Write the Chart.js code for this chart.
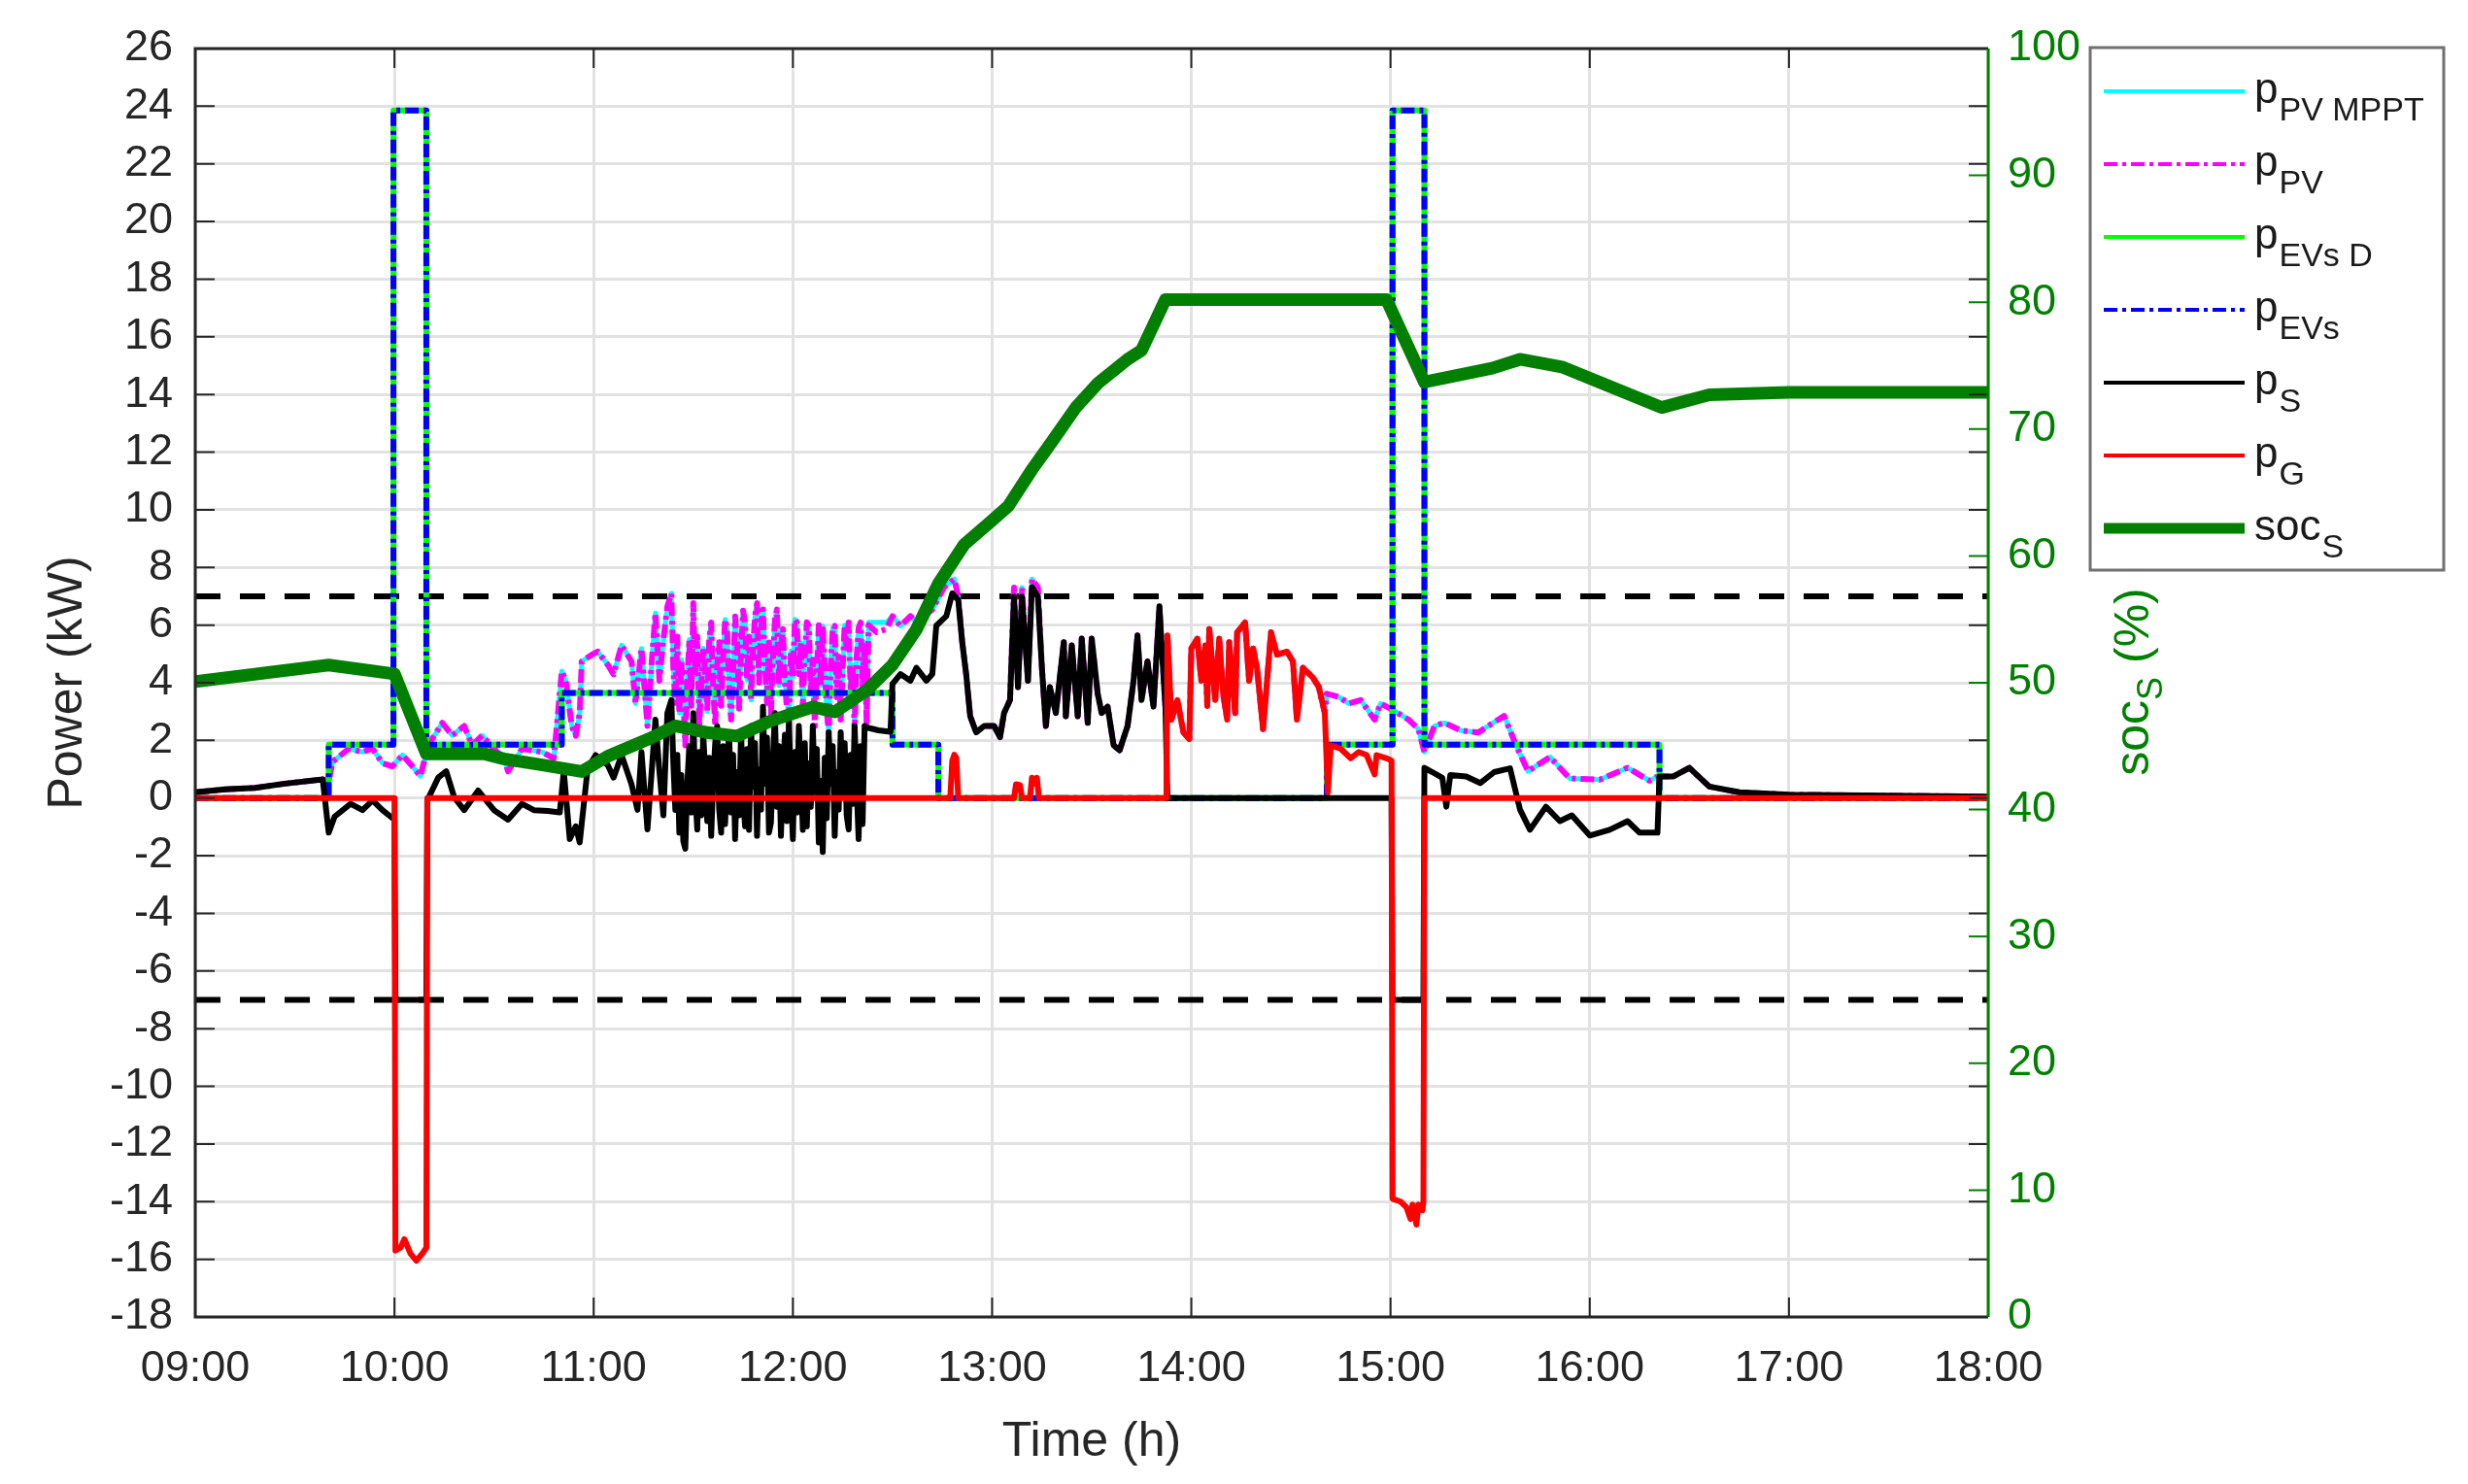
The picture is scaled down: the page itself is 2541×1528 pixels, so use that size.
<!DOCTYPE html>
<html lang="en">
<head>
    <meta charset="UTF-8">
    <title>Power flows and storage SOC</title>
    <script src="https://cdn.jsdelivr.net/npm/chart.js"></script>
    <style>
        html, body { margin: 0; padding: 0; background: #fff; }
        #chart-container { width: 2541px; height: 1528px; position: relative; }
    </style>
</head>
<body>
<div id="chart-container"><canvas id="chart"></canvas></div>
<script>
// time in hours (9 = 09:00), power in kW, state of charge in %
const timeLabels = ['09:00', '10:00', '11:00', '12:00', '13:00', '14:00', '15:00', '16:00', '17:00', '18:00'];
const powerRange = [-18, 26];
const socRange = [0, 100];
const pLimits = [7, -7];

// legend text: [main, subscript]
const seriesNames = [['p', 'PV MPPT'], ['p', 'PV'], ['p', 'EVs D'], ['p', 'EVs'], ['p', 'S'], ['p', 'G'], ['soc', 'S']];

// EV power, step values (each value holds until the next time)
const tEV = [9.0, 9.67, 9.995, 10.16, 10.84, 12.5, 12.73, 14.68, 15.01, 15.17, 16.35, 18.0];
const pEVs = [0, 1.85, 23.85, 1.85, 3.65, 1.85, 0, 1.85, 23.85, 1.85, 0, 0];
const pEVsD = [0, 1.85, 23.85, 1.85, 3.65, 1.85, 0, 1.85, 23.85, 1.85, 0, 0];

// PV power [t, kW]
const pPV = [
    [9.00, 0.20], [9.15, 0.30], [9.30, 0.35], [9.45, 0.50], [9.64, 0.65], [9.67, 0.60], [9.69, 1.26], [9.77, 1.71],
    [9.84, 1.60], [9.89, 1.71], [9.94, 1.21], [9.99, 1.10], [10.04, 1.49], [10.09, 1.10], [10.13, 0.76], [10.17, 1.83],
    [10.24, 2.61], [10.29, 2.17], [10.35, 2.50], [10.39, 1.83], [10.44, 2.17], [10.50, 1.70], [10.55, 1.38], [10.57, 0.93],
    [10.64, 1.71], [10.74, 1.60], [10.80, 1.38], [10.84, 4.40], [10.86, 4.07], [10.89, 2.50], [10.91, 2.16], [10.93, 2.95],
    [10.94, 4.74], [10.99, 4.97], [11.02, 5.08], [11.07, 4.63], [11.10, 4.29], [11.14, 5.30], [11.19, 4.74], [11.21, 3.28],
    [11.24, 5.19], [11.27, 2.50], [11.29, 4.60], [11.31, 6.42], [11.33, 4.07], [11.35, 5.50], [11.37, 6.65], [11.39, 7.10],
    [11.40, 4.50], [11.41, 3.30], [11.42, 5.60], [11.43, 2.95], [11.44, 4.80], [11.45, 3.40], [11.46, 1.83], [11.47, 4.00],
    [11.48, 5.50], [11.49, 3.20], [11.50, 6.76], [11.51, 4.20], [11.52, 5.60], [11.53, 2.50], [11.54, 3.90], [11.55, 5.20],
    [11.56, 4.29], [11.57, 3.00], [11.58, 5.50], [11.59, 6.09], [11.60, 3.80], [11.61, 2.50], [11.62, 4.60], [11.63, 5.41],
    [11.64, 3.20], [11.65, 4.90], [11.66, 6.20], [11.67, 5.86], [11.68, 3.60], [11.69, 2.72], [11.70, 4.40], [11.71, 6.30],
    [11.72, 5.41], [11.73, 3.10], [11.74, 5.00], [11.75, 6.50], [11.76, 6.09], [11.77, 4.10], [11.78, 5.60], [11.79, 3.40],
    [11.80, 5.20], [11.81, 6.30], [11.82, 6.76], [11.83, 4.00], [11.84, 5.80], [11.85, 6.54], [11.86, 4.60], [11.87, 3.30],
    [11.88, 5.40], [11.89, 2.95], [11.90, 4.80], [11.91, 6.20], [11.92, 6.54], [11.93, 3.90], [11.94, 5.20], [11.95, 5.86],
    [11.96, 4.00], [11.97, 3.10], [11.98, 2.72], [11.99, 5.10], [12.00, 4.20], [12.01, 6.20], [12.02, 6.09], [12.03, 4.30],
    [12.04, 5.40], [12.05, 3.17], [12.06, 4.90], [12.07, 6.10], [12.08, 5.97], [12.09, 3.60], [12.10, 4.80], [12.11, 2.50],
    [12.12, 4.40], [12.13, 6.00], [12.14, 3.90], [12.15, 5.97], [12.16, 4.50], [12.17, 3.00], [12.18, 2.28], [12.19, 4.60],
    [12.20, 5.90], [12.21, 5.97], [12.22, 3.50], [12.23, 4.90], [12.24, 2.72], [12.25, 4.50], [12.26, 6.00], [12.27, 5.20],
    [12.28, 6.09], [12.29, 3.70], [12.30, 4.60], [12.31, 2.28], [12.32, 4.90], [12.33, 5.90], [12.34, 6.09], [12.35, 3.80],
    [12.36, 5.40], [12.37, 2.61], [12.38, 6.00], [12.42, 5.75], [12.47, 5.86],
    [12.50, 6.31], [12.54, 5.97], [12.59, 6.31], [12.62, 6.09], [12.70, 6.54], [12.76, 7.32], [12.81, 7.60], [12.83, 7.00],
    [12.85, 5.41], [12.87, 4.29], [12.89, 2.84], [12.92, 2.28], [12.96, 2.50], [13.01, 2.50], [13.04, 2.11], [13.06, 2.95],
    [13.09, 3.40], [13.11, 7.30], [13.13, 3.85], [13.15, 7.30], [13.18, 4.07], [13.20, 7.60], [13.23, 7.30], [13.25, 4.52],
    [13.27, 2.50], [13.29, 3.85], [13.32, 2.95], [13.36, 5.41], [13.37, 2.84], [13.40, 5.30], [13.43, 2.84], [13.45, 5.53],
    [13.48, 2.61], [13.50, 5.53], [13.53, 3.62], [13.55, 2.95], [13.58, 3.17], [13.61, 1.83], [13.64, 1.66], [13.68, 2.50],
    [13.71, 4.07], [13.73, 5.64], [13.75, 3.40], [13.78, 4.74], [13.81, 3.17], [13.84, 6.65], [13.85, 5.41], [13.87, 3.17],
    [13.88, 5.64], [13.90, 2.72], [13.93, 3.40], [13.96, 2.28], [13.99, 2.05], [14.00, 5.19], [14.03, 5.53], [14.05, 4.07],
    [14.07, 5.30], [14.08, 3.20], [14.09, 5.86], [14.12, 3.40], [14.14, 5.53], [14.16, 3.60], [14.18, 2.72], [14.19, 5.41],
    [14.22, 2.95], [14.23, 5.75], [14.27, 6.09], [14.29, 4.07], [14.31, 5.19], [14.33, 4.50], [14.36, 2.39], [14.40, 5.75],
    [14.43, 4.97], [14.48, 5.08], [14.51, 4.74], [14.53, 2.72], [14.56, 4.52], [14.61, 4.18], [14.64, 3.85], [14.67, 2.95],
    [14.68, 3.62], [14.74, 3.51], [14.79, 3.28], [14.85, 3.40], [14.92, 2.72], [14.95, 3.28], [15.01, 3.06], [15.09, 2.72],
    [15.14, 2.39], [15.17, 1.60], [15.22, 2.50], [15.27, 2.61], [15.35, 2.35], [15.44, 2.27], [15.49, 2.50], [15.57, 2.85],
    [15.63, 1.83], [15.69, 0.93], [15.80, 1.42], [15.90, 0.68], [16.05, 0.64], [16.19, 1.05], [16.30, 0.60], [16.34, 0.75],
    [16.42, 0.75], [16.50, 1.05], [16.60, 0.40], [16.75, 0.20], [17.00, 0.12], [17.50, 0.08], [18.00, 0.05]
];
// MPPT power differs from PV power only where the PV is curtailed
const pMPPTdiff = [[12.38, 6.10], [12.42, 6.10], [12.47, 6.10], [11.89, 3.40], [12.11, 2.90], [12.31, 2.70], [11.61, 2.90], [11.97, 3.50]];

// storage power [t, kW]
const pS = [
    [9.00, 0.20], [9.15, 0.30], [9.30, 0.35], [9.45, 0.50], [9.64, 0.65], [9.67, -1.20], [9.70, -0.64], [9.78, -0.20],
    [9.84, -0.42], [9.89, -0.08], [9.94, -0.42], [10.00, -0.75], [10.005, -7.00], [10.16, -7.00], [10.165, -0.08], [10.22, 0.71],
    [10.26, 0.93], [10.30, 0.03], [10.35, -0.42], [10.42, 0.26], [10.50, -0.42], [10.57, -0.75], [10.64, -0.20], [10.70, -0.42],
    [10.77, -0.45], [10.83, -0.50], [10.85, 0.93], [10.88, -1.42], [10.91, -0.98], [10.93, -1.54], [10.97, 1.04], [11.01, 1.49],
    [11.07, 1.15], [11.10, 0.71], [11.14, 1.49], [11.19, 0.48], [11.22, -0.41], [11.24, 1.60], [11.27, -1.09], [11.29, 0.80],
    [11.31, 2.72], [11.33, 0.93], [11.35, -0.60], [11.37, 2.95], [11.39, 3.40], [11.40, 1.20], [11.41, -0.41], [11.42, 1.50],
    [11.43, -1.20], [11.44, 0.80], [11.45, -1.50], [11.46, -1.76], [11.47, 0.50], [11.48, 1.80], [11.49, -0.50], [11.50, 2.95],
    [11.51, 0.20], [11.52, -1.09], [11.53, 1.60], [11.54, -0.60], [11.55, 2.20], [11.56, 0.93], [11.57, -0.80], [11.58, 1.40],
    [11.59, -1.31], [11.60, 0.60], [11.61, 1.90], [11.62, 2.50], [11.63, -0.40], [11.64, -1.20], [11.65, 1.80], [11.66, -0.90],
    [11.67, 1.20], [11.68, 2.28], [11.69, -0.50], [11.70, 1.50], [11.71, -1.42], [11.72, 0.90], [11.73, -0.60], [11.74, 2.28],
    [11.75, 0.10], [11.76, -0.98], [11.77, 1.70], [11.78, -1.10], [11.79, 2.50], [11.80, 0.40], [11.81, 1.90], [11.82, -1.31],
    [11.83, 1.00], [11.84, -0.40], [11.85, 3.17], [11.86, 0.50], [11.87, 2.10], [11.88, -1.20], [11.89, -0.86], [11.90, 1.40],
    [11.91, 2.95], [11.92, -0.30], [11.93, 1.80], [11.94, -1.31], [11.95, 0.70], [11.96, 2.20], [11.97, -0.80], [11.98, 2.72],
    [11.99, 0.30], [12.00, -1.42], [12.01, 1.60], [12.02, -0.50], [12.03, 2.50], [12.04, 0.80], [12.05, -1.10], [12.06, 1.90],
    [12.07, -0.98], [12.08, 1.20], [12.09, -0.30], [12.10, 2.50], [12.11, 0.20], [12.12, 1.70], [12.13, -1.54], [12.14, 0.60],
    [12.15, -1.87], [12.16, 1.40], [12.17, -0.70], [12.18, 2.28], [12.19, 0.50], [12.20, 1.80], [12.21, -1.31], [12.22, 0.90],
    [12.23, -0.40], [12.24, 2.28], [12.25, 0.10], [12.26, 1.90], [12.27, -0.60], [12.28, -1.09], [12.29, 1.50], [12.30, -0.20],
    [12.31, 2.50], [12.32, 0.40], [12.33, -1.42], [12.34, 1.80], [12.35, -0.90], [12.36, 2.50], [12.37, 2.45], [12.43, 2.35],
    [12.49, 2.30], [12.50, 3.96], [12.54, 4.30],
    [12.59, 4.07], [12.62, 4.52], [12.67, 4.07], [12.70, 4.30], [12.72, 5.98], [12.77, 6.31], [12.80, 7.10], [12.83, 6.87],
    [12.85, 5.41], [12.87, 4.29], [12.89, 2.84], [12.92, 2.28], [12.96, 2.50], [13.01, 2.50], [13.04, 2.11], [13.06, 2.95],
    [13.09, 3.40], [13.11, 6.98], [13.13, 3.85], [13.15, 6.98], [13.18, 4.07], [13.20, 7.32], [13.23, 6.98], [13.25, 4.52],
    [13.27, 2.50], [13.29, 3.85], [13.32, 2.95], [13.36, 5.41], [13.37, 2.84], [13.40, 5.30], [13.43, 2.84], [13.45, 5.53],
    [13.48, 2.61], [13.50, 5.53], [13.53, 3.62], [13.55, 2.95], [13.58, 3.17], [13.61, 1.83], [13.64, 1.66], [13.68, 2.50],
    [13.71, 4.07], [13.73, 5.64], [13.75, 3.40], [13.78, 4.74], [13.81, 3.17], [13.84, 6.65], [13.85, 5.41], [13.87, 3.17],
    [13.88, 0.00], [15.005, 0.00], [15.01, -7.00], [15.165, -7.00], [15.17, 1.05], [15.21, 0.90], [15.26, 0.70], [15.28, -0.30],
    [15.30, 0.80], [15.38, 0.75], [15.45, 0.52], [15.52, 0.90], [15.60, 1.03], [15.65, -0.40], [15.70, -1.10], [15.78, -0.30],
    [15.85, -0.80], [15.91, -0.60], [16.00, -1.30], [16.10, -1.10], [16.19, -0.80], [16.25, -1.20], [16.34, -1.20], [16.35, 0.75],
    [16.42, 0.75], [16.50, 1.05], [16.60, 0.40], [16.75, 0.20], [17.00, 0.12], [17.50, 0.08], [18.00, 0.05]
];

// grid power [t, kW]
const pG = [
    [9.00, 0], [10.00, 0], [10.005, -15.7], [10.03, -15.6], [10.05, -15.3], [10.08, -15.8], [10.11, -16.05], [10.14, -15.8],
    [10.16, -15.6], [10.165, 0], [12.79, 0], [12.80, 1.30], [12.81, 1.50], [12.82, 1.40], [12.83, 0], [13.11, 0],
    [13.12, 0.48], [13.14, 0.45], [13.15, 0], [13.19, 0], [13.20, 0.71], [13.215, 0.50], [13.225, 0.70], [13.235, 0],
    [13.875, 0], [13.88, 5.64], [13.90, 2.72], [13.93, 3.40], [13.96, 2.28], [13.99, 2.05], [14.00, 5.19], [14.03, 5.53],
    [14.05, 4.07], [14.07, 5.30], [14.08, 3.20], [14.09, 5.86], [14.12, 3.40], [14.14, 5.53], [14.16, 3.60], [14.18, 2.72],
    [14.19, 5.41], [14.22, 2.95], [14.23, 5.75], [14.27, 6.09], [14.29, 4.07], [14.31, 5.19], [14.33, 4.50], [14.36, 2.39],
    [14.40, 5.75], [14.43, 4.97], [14.48, 5.08], [14.51, 4.74], [14.53, 2.72], [14.56, 4.52], [14.61, 4.18], [14.64, 3.85],
    [14.67, 2.95], [14.685, 0.20], [14.70, 1.83], [14.75, 1.71], [14.80, 1.38], [14.84, 1.60], [14.88, 1.49], [14.92, 0.82],
    [14.93, 1.49], [14.98, 1.38], [15.005, 1.30], [15.01, -13.9], [15.05, -14.0], [15.08, -14.2], [15.10, -14.6], [15.11, -14.1],
    [15.13, -14.8], [15.14, -14.1], [15.16, -14.3], [15.165, -14.0], [15.17, 0], [18.00, 0]
];

// storage state of charge [t, %]
const socS = [
    [9.00, 50.1], [9.67, 51.4], [10.00, 50.7], [10.16, 44.4], [10.45, 44.4], [10.55, 44.0], [10.75, 43.5], [10.94, 43.0],
    [11.07, 44.2], [11.28, 45.6], [11.41, 46.6], [11.56, 46.1], [11.72, 45.8], [11.89, 47.0], [12.10, 48.1], [12.21, 47.7],
    [12.37, 49.4], [12.50, 51.4], [12.62, 54.2], [12.73, 57.8], [12.86, 60.9], [13.00, 62.8], [13.08, 63.9], [13.20, 66.8],
    [13.30, 69.0], [13.42, 71.7], [13.53, 73.6], [13.68, 75.5], [13.75, 76.2], [13.87, 80.2], [14.98, 80.2], [15.17, 73.7],
    [15.51, 74.8], [15.65, 75.5], [15.86, 74.9], [16.36, 71.7], [16.60, 72.7], [17.00, 72.9], [18.00, 72.9]
];

const FONT = "'Liberation Sans', Arial, sans-serif";
const AXIS_GREEN = '#008000';
const AXIS_DARK = '#262626';

function toXY(pairs) {
    return pairs.map(p => ({ x: p[0], y: p[1] }));
}

const mpptMap = new Map(pMPPTdiff.map(p => [p[0], p[1]]));
const pMPPT = pPV.map(p => [p[0], mpptMap.has(p[0]) ? mpptMap.get(p[0]) : p[1]]);

const dashDot = [14, 5, 4, 5];

const datasets = [
    { label: 'pPV MPPT', data: toXY(pMPPT), borderColor: '#00ffff', borderWidth: 5, order: 6 },
    { label: 'pPV', data: toXY(pPV), borderColor: '#ff00ff', borderWidth: 6, borderDash: dashDot, order: 5 },
    { label: 'pEVs D', data: tEV.map((t, i) => ({ x: t, y: pEVsD[i] })), borderColor: '#00ff00', borderWidth: 6, stepped: 'before', order: 4 },
    { label: 'pEVs', data: tEV.map((t, i) => ({ x: t, y: pEVs[i] })), borderColor: '#0000ff', borderWidth: 6, borderDash: dashDot, stepped: 'before', order: 3 },
    { label: 'pS', data: toXY(pS), borderColor: '#000000', borderWidth: 6, order: 2 },
    { label: 'pG', data: toXY(pG), borderColor: '#ff0000', borderWidth: 6, order: 1 },
    { label: 'socS', data: toXY(socS), borderColor: '#007f00', borderWidth: 13, yAxisID: 'y2', order: 0 },
    { label: 'upper limit', data: [{ x: 9, y: pLimits[0] }, { x: 18, y: pLimits[0] }], borderColor: '#000', borderWidth: 6, borderDash: [26, 20], order: 7 },
    { label: 'lower limit', data: [{ x: 9, y: pLimits[1] }, { x: 18, y: pLimits[1] }], borderColor: '#000', borderWidth: 6, borderDash: [26, 20], order: 7 }
];
datasets.forEach(d => {
    d.pointRadius = 0;
    d.tension = 0;
    d.fill = false;
    d.borderCapStyle = 'butt';
    d.borderJoinStyle = 'round';
    if (!d.yAxisID) d.yAxisID = 'y';
});

// frame, inward ticks, right axis title and legend (MATLAB look)
const decorations = {
    id: 'decorations',
    afterDraw(chart) {
        const { ctx, chartArea: a, scales: { x, y, y2 } } = chart;
        const tick = 20;
        ctx.save();
        ctx.setLineDash([]);

        ctx.lineWidth = 2;
        ctx.strokeStyle = AXIS_DARK;
        ctx.beginPath();
        y.ticks.forEach(t => {
            const py = y.getPixelForValue(t.value);
            ctx.moveTo(a.left, py); ctx.lineTo(a.left + tick, py);
            ctx.moveTo(a.right, py); ctx.lineTo(a.right - tick, py);
        });
        x.ticks.forEach(t => {
            const px = x.getPixelForValue(t.value);
            ctx.moveTo(px, a.bottom); ctx.lineTo(px, a.bottom - tick);
            ctx.moveTo(px, a.top); ctx.lineTo(px, a.top + tick);
        });
        ctx.stroke();

        ctx.strokeStyle = AXIS_GREEN;
        ctx.beginPath();
        y2.ticks.forEach(t => {
            const py = y2.getPixelForValue(t.value);
            ctx.moveTo(a.right, py); ctx.lineTo(a.right - tick, py);
        });
        ctx.stroke();

        // box
        ctx.lineWidth = 3;
        ctx.strokeStyle = AXIS_DARK;
        ctx.beginPath();
        ctx.moveTo(a.right, a.top);
        ctx.lineTo(a.left, a.top);
        ctx.lineTo(a.left, a.bottom);
        ctx.lineTo(a.right, a.bottom);
        ctx.stroke();
        ctx.strokeStyle = AXIS_GREEN;
        ctx.beginPath();
        ctx.moveTo(a.right, a.top);
        ctx.lineTo(a.right, a.bottom);
        ctx.stroke();

        // right axis title: soc_S (%), reading bottom to top
        const big = '50px ' + FONT, small = '36px ' + FONT;
        ctx.save();
        ctx.translate(2212, 702);
        ctx.rotate(-Math.PI / 2);
        ctx.fillStyle = AXIS_GREEN;
        ctx.textBaseline = 'alphabetic';
        ctx.textAlign = 'left';
        ctx.font = big;
        const w1 = ctx.measureText('soc').width;
        const w3 = ctx.measureText(' (%)').width;
        ctx.font = small;
        const w2 = ctx.measureText('S').width;
        let x0 = -(w1 + w2 + w3) / 2;
        ctx.font = big; ctx.fillText('soc', x0, 0);
        ctx.font = small; ctx.fillText('S', x0 + w1, 14);
        ctx.font = big; ctx.fillText(' (%)', x0 + w1 + w2, 0);
        ctx.restore();

        // legend
        const box = { left: 2152, top: 49, width: 364, height: 538 };
        ctx.fillStyle = '#ffffff';
        ctx.fillRect(box.left, box.top, box.width, box.height);
        ctx.lineWidth = 3;
        ctx.strokeStyle = '#707070';
        ctx.strokeRect(box.left, box.top, box.width, box.height);

        const rowY0 = 94, rowStep = 75;
        seriesNames.forEach((name, i) => {
            const ds = chart.data.datasets[i];
            const ry = rowY0 + i * rowStep;
            ctx.setLineDash(ds.borderDash || []);
            ctx.strokeStyle = ds.borderColor;
            ctx.lineWidth = i === 6 ? 11 : 4;
            ctx.beginPath();
            ctx.moveTo(2166, ry);
            ctx.lineTo(2311, ry);
            ctx.stroke();
            ctx.setLineDash([]);

            ctx.fillStyle = '#1a1a1a';
            ctx.textBaseline = 'alphabetic';
            ctx.textAlign = 'left';
            ctx.font = '44px ' + FONT;
            ctx.fillText(name[0], 2321, ry + 12);
            const mw = ctx.measureText(name[0]).width;
            ctx.font = '34px ' + FONT;
            ctx.fillText(name[1], 2321 + mw + 1, ry + 30);
        });
        ctx.restore();
    }
};

const ctx = document.getElementById('chart').getContext('2d');
const chart = new Chart(ctx, {
    type: 'line',
    data: { datasets: datasets },
    options: {
        responsive: true,
        maintainAspectRatio: false,
        devicePixelRatio: 1,
        animation: false,
        events: [],
        layout: { padding: { top: 48, left: 0, right: 0, bottom: 0 } },
        plugins: { legend: { display: false }, tooltip: { enabled: false } },
        scales: {
            x: {
                type: 'linear',
                min: 9,
                max: 18,
                afterFit: s => { s.height = 172; },
                afterBuildTicks: s => { s.ticks = timeLabels.map((_, i) => ({ value: 9 + i })); },
                ticks: {
                    autoSkip: false,
                    maxRotation: 0,
                    padding: 27,
                    color: AXIS_DARK,
                    font: { family: FONT, size: 45 },
                    callback: v => timeLabels[Math.round(v - 9)]
                },
                grid: { color: '#e2e2e2', lineWidth: 3, drawTicks: false },
                border: { display: false },
                title: { display: true, text: 'Time (h)', color: AXIS_DARK, font: { family: FONT, size: 50 }, padding: { top: 0, bottom: 13 } }
            },
            y: {
                type: 'linear',
                position: 'left',
                min: powerRange[0],
                max: powerRange[1],
                afterFit: s => { s.width = 201; },
                ticks: { stepSize: 2, padding: 23, color: AXIS_DARK, font: { family: FONT, size: 45 } },
                grid: { color: '#e2e2e2', lineWidth: 3, drawTicks: false },
                border: { display: false },
                title: { display: true, text: 'Power (kW)', color: AXIS_DARK, font: { family: FONT, size: 50 }, padding: { top: 40, bottom: 0 } }
            },
            y2: {
                type: 'linear',
                position: 'right',
                min: socRange[0],
                max: socRange[1],
                afterFit: s => { s.width = 494; },
                ticks: { stepSize: 10, padding: 20, color: AXIS_GREEN, font: { family: FONT, size: 45 } },
                grid: { display: false, drawTicks: false },
                border: { display: false }
            }
        }
    },
    plugins: [decorations]
});
</script>
</body>
</html>
